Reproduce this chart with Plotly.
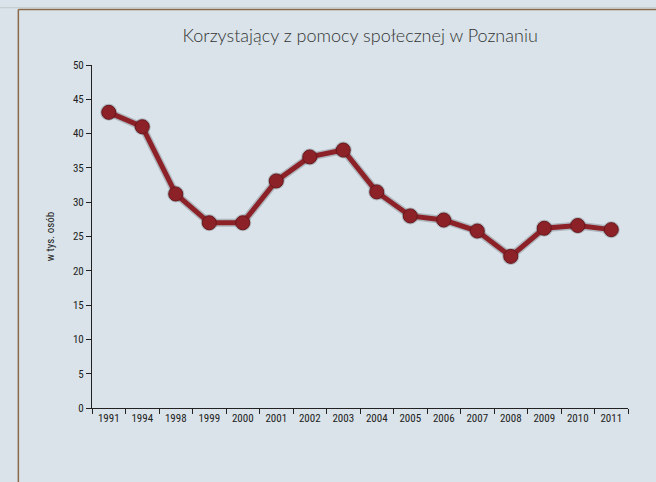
import plotly.graph_objects as go

years = ["1991", "1994", "1998", "1999", "2000", "2001", "2002", "2003",
         "2004", "2005", "2006", "2007", "2008", "2009", "2010", "2011"]
values = [43.1, 41.0, 31.2, 27.0, 27.0, 33.1, 36.6, 37.6,
          31.5, 28.0, 27.4, 25.8, 22.1, 26.2, 26.6, 26.0]

title_text = "Korzystający z pomocy społecznej w Poznaniu"
y_title = "w tys. osób"
y_ticks = [0, 5, 10, 15, 20, 25, 30, 35, 40, 45, 50]

BG = "#d9e3e9"
LINE = "#8c2128"
NARROW = "Liberation Sans Narrow, Roboto Condensed, Roboto, sans-serif"
TICKFONT = dict(family=NARROW, size=11, color="#222")

fig = go.Figure()
# soft shadow
fig.add_trace(go.Scatter(
    x=years, y=values, mode="lines+markers",
    line=dict(color="rgba(30,30,40,0.22)", width=8),
    marker=dict(size=17, color="rgba(30,30,40,0.22)"),
    hoverinfo="skip", showlegend=False,
))
fig.add_trace(go.Scatter(
    x=years, y=values, mode="lines+markers",
    line=dict(color=LINE, width=5),
    marker=dict(size=14, color=LINE, line=dict(color="#6a161b", width=1)),
    showlegend=False,
))

fig.update_layout(
    width=656, height=482,
    paper_bgcolor=BG, plot_bgcolor=BG,
    margin=dict(l=92, r=28, t=65, b=74),
    title=dict(text=title_text, x=0.549, xanchor="center", y=0.925, yanchor="middle",
               font=dict(family="Lato, Open Sans, sans-serif", size=18, color="#333", weight=300)),
    xaxis=dict(
        type="category", tickson="boundaries", showgrid=False, zeroline=False,
        showline=True, linecolor="#222", linewidth=1,
        ticks="outside", ticklen=5, tickcolor="#222", tickwidth=1,
        tickfont=TICKFONT, tickangle=0, range=[-0.5, len(years) - 0.5],
    ),
    yaxis=dict(
        range=[0, 50], tickvals=y_ticks, showgrid=False, zeroline=False,
        showline=True, linecolor="#222", linewidth=1,
        ticks="outside", ticklen=5, tickcolor="#222", tickwidth=1,
        tickfont=TICKFONT,
        title=dict(text=y_title, standoff=16,
                   font=dict(family=NARROW, size=11, color="#222")),
    ),
    shapes=[
        dict(type="line", xref="paper", yref="paper", x0=-0.1374, x1=-0.1374, y0=-0.3, y1=1.162,
             line=dict(color="#8a6a48", width=1.5)),
        dict(type="line", xref="paper", yref="paper", x0=-0.1374, x1=1.2, y0=1.162, y1=1.162,
             line=dict(color="#8a6a48", width=1.5)),
        dict(type="line", xref="paper", yref="paper", x0=-0.2, x1=1.2, y0=1.167, y1=1.167,
             line=dict(color="#c2c8cc", width=1)),
    ],
)

fig.write_html("out.html", config={"displayModeBar": False},
               post_script="document.body.style.margin='0';document.body.style.padding='0';"
                           "document.body.style.background='#d9e3e9';")
